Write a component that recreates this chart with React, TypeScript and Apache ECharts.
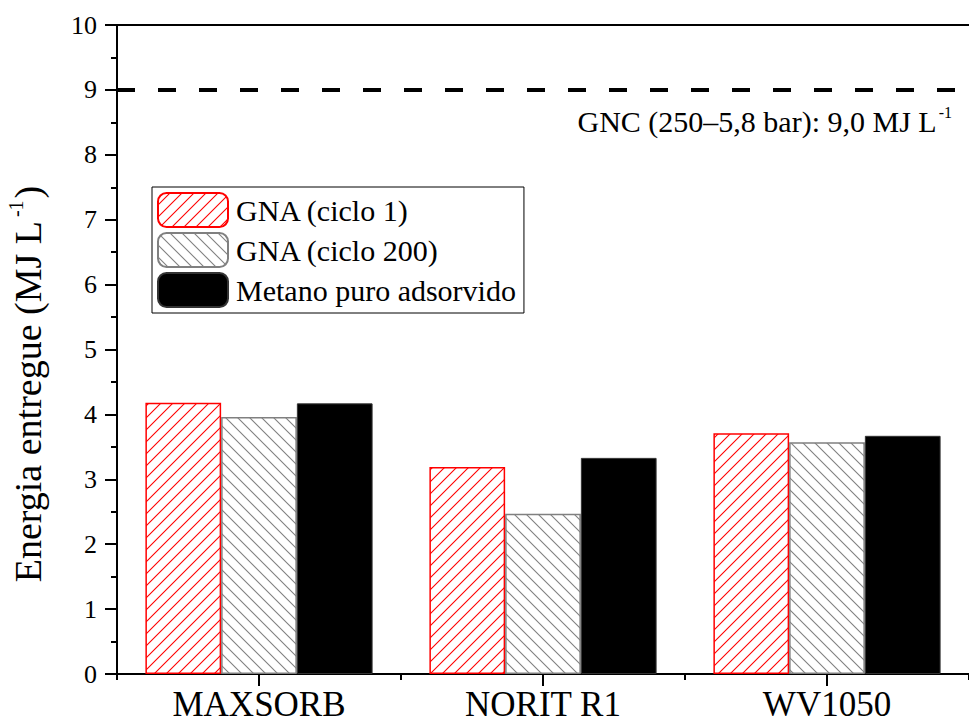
import React, { useEffect, useRef } from "react";
import * as echarts from "echarts";

const categories = ["MAXSORB", "NORIT R1", "WV1050"];
const seriesNames = ["GNA (ciclo 1)", "GNA (ciclo 200)", "Metano puro adsorvido"];
const gnaCiclo1 = [4.18, 3.19, 3.71];
const gnaCiclo200 = [3.96, 2.47, 3.57];
const metanoPuro = [4.17, 3.33, 3.67];
const gncLevel = 9;
const yTicks = { min: 0, max: 10, interval: 1 };

const FONT = "Liberation Serif";

function makeHatch(color: string, forward: boolean) {
  const s = 12;
  const c = document.createElement("canvas");
  c.width = s;
  c.height = s;
  const ctx = c.getContext("2d")!;
  ctx.fillStyle = "#fff";
  ctx.fillRect(0, 0, s, s);
  ctx.strokeStyle = color;
  ctx.lineWidth = 1.1;
  ctx.beginPath();
  if (forward) {
    ctx.moveTo(-1, s + 1); ctx.lineTo(s + 1, -1);
    ctx.moveTo(-1 - s, s + 1); ctx.lineTo(1, -1);
    ctx.moveTo(s - 1, s + 1); ctx.lineTo(2 * s + 1, -1);
  } else {
    ctx.moveTo(-1, -1); ctx.lineTo(s + 1, s + 1);
    ctx.moveTo(-1 - s, -1); ctx.lineTo(1, s + 1);
    ctx.moveTo(s - 1, -1); ctx.lineTo(2 * s + 1, s + 1);
  }
  ctx.stroke();
  return { image: c, repeat: "repeat" } as any;
}

export default function App() {
  const ref = useRef<HTMLDivElement>(null);
  useEffect(() => {
    if (!ref.current) return;
    const chart = echarts.init(ref.current, undefined, { renderer: "svg" });
    const redHatch = makeHatch("#ff0000", true);
    const greyHatch = makeHatch("#808080", false);
    const option: any = {
      animation: false,
      backgroundColor: "#ffffff",
      textStyle: { fontFamily: FONT },
      grid: { left: 117, right: -12, top: 25, bottom: 50, containLabel: false },
      legend: {
        orient: "vertical",
        left: 152,
        top: 187,
        itemWidth: 70,
        itemHeight: 34,
        itemGap: 4,
        padding: [5, 8, 5, 5],
        borderColor: "#000",
        borderWidth: 1,
        backgroundColor: "#fff",
        textStyle: { fontFamily: FONT, fontSize: 30, color: "#000", padding: [0, 0, 0, 3] },
        data: seriesNames,
      },
      xAxis: [
        {
          type: "category",
          data: categories,
          position: "bottom",
          axisLine: { show: true, lineStyle: { color: "#000", width: 2 } },
          axisTick: { show: true, alignWithLabel: true, length: 12, lineStyle: { color: "#000", width: 2 } },
          axisLabel: { fontFamily: FONT, fontSize: 35, color: "#000", margin: 13 },
          splitLine: { show: false },
        },
        {
          type: "category",
          data: categories,
          position: "bottom",
          axisLine: { show: false },
          axisTick: { show: true, alignWithLabel: false, length: 6, lineStyle: { color: "#000", width: 2 } },
          axisLabel: { show: false },
          splitLine: { show: false },
        },
        {
          type: "category",
          data: categories,
          position: "top",
          axisLine: { show: true, lineStyle: { color: "#000", width: 2 } },
          axisTick: { show: false },
          axisLabel: { show: false },
          splitLine: { show: false },
        },
      ],
      yAxis: {
        type: "value",
        min: yTicks.min,
        max: yTicks.max,
        interval: yTicks.interval,
        axisLine: { show: true, lineStyle: { color: "#000", width: 2 } },
        axisTick: { show: true, length: 12, lineStyle: { color: "#000", width: 2 } },
        minorTick: { show: true, splitNumber: 2, length: 6, lineStyle: { color: "#000", width: 2 } },
        axisLabel: { fontFamily: FONT, fontSize: 26, color: "#000", margin: 20 },
        splitLine: { show: false },
      },
      series: [
        {
          name: seriesNames[0],
          type: "bar",
          data: gnaCiclo1,
          barGap: "0%",
          barCategoryGap: "20%",
          itemStyle: { color: redHatch, borderColor: "#ff0000", borderWidth: 1.5 },
          markLine: {
            symbol: "none",
            silent: true,
            label: { show: false },
            lineStyle: { color: "#000", type: [18, 23], width: 4 },
            data: [{ yAxis: gncLevel }],
          },
        },
        {
          name: seriesNames[1],
          type: "bar",
          data: gnaCiclo200,
          barGap: "0%",
          barCategoryGap: "20%",
          itemStyle: { color: greyHatch, borderColor: "#808080", borderWidth: 1.5 },
        },
        {
          name: seriesNames[2],
          type: "bar",
          data: metanoPuro,
          barGap: "0%",
          barCategoryGap: "20%",
          itemStyle: { color: "#000", borderColor: "#333", borderWidth: 1 },
        },
      ],
      graphic: [
        {
          type: "text",
          x: 26,
          y: 384,
          rotation: Math.PI / 2,
          style: {
            text: "{m|Energia entregue (MJ L}{s|-1}{m|)}",
            fontFamily: FONT,
            align: "center",
            verticalAlign: "middle",
            fill: "#000",
            rich: {
              m: { fontFamily: FONT, fontSize: 38, lineHeight: 41, verticalAlign: "bottom", fill: "#000" },
              s: { fontFamily: FONT, fontSize: 20, lineHeight: 22, verticalAlign: "top", fill: "#000", padding: [0, 2, 0, 4] },
            },
          },
        },
        {
          type: "text",
          x: 952,
          y: 120,
          style: {
            text: "{m|GNC (250–5,8 bar): 9,0 MJ L}{s|-1}",
            fontFamily: FONT,
            align: "right",
            verticalAlign: "middle",
            fill: "#000",
            rich: {
              m: { fontFamily: FONT, fontSize: 30, lineHeight: 32, verticalAlign: "bottom", fill: "#000" },
              s: { fontFamily: FONT, fontSize: 16, lineHeight: 18, verticalAlign: "top", fill: "#000", padding: [0, 0, 0, 2] },
            },
          },
        },
      ],
    };
    chart.setOption(option);
    return () => chart.dispose();
  }, []);
  return (
    <div
      ref={ref}
      style={{ position: "fixed", left: 0, top: 0, width: 969, height: 724, background: "#fff" }}
    />
  );
}
